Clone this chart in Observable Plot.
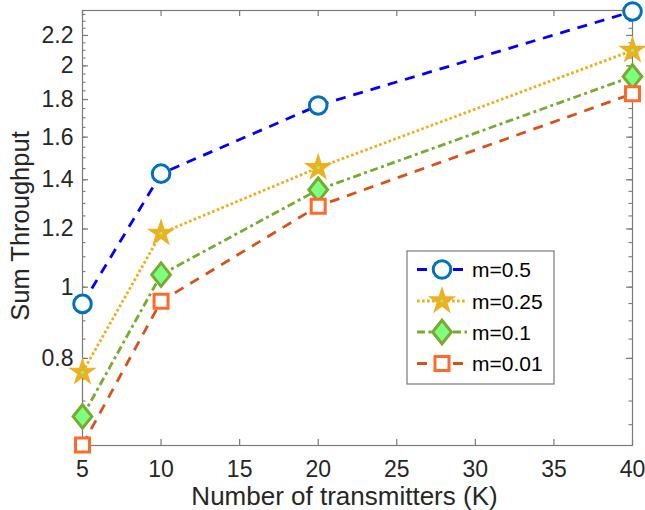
<!DOCTYPE html>
<html>
<head>
<meta charset="utf-8">
<script src="https://cdn.jsdelivr.net/npm/d3@7"></script>
<script src="https://cdn.jsdelivr.net/npm/@observablehq/plot@0.6"></script>
<style>
  html, body { margin: 0; padding: 0; background: #fff; }
  #chart { width: 645px; height: 510px; }
</style>
</head>
<body>
<div id="chart"></div>
<script>
// ---- data ----
const K = [5, 10, 20, 40];
const m05  = [0.949, 1.427, 1.767, 2.372];
const m025 = [0.766, 1.184, 1.454, 2.099];
const m01  = [0.667, 1.040, 1.357, 1.935];
const m001 = [0.610, 0.957, 1.289, 1.833];
const seriesNames = ["m=0.5", "m=0.25", "m=0.1", "m=0.01"];

const xTicks = [5, 10, 15, 20, 25, 30, 35, 40];
const yMajor = [0.8, 1, 1.2, 1.4, 1.6, 1.8, 2, 2.2];
const yMinor = d3.range(13, 48).map(i => i / 20);
const xLabel = "Number of transmitters (K)";
const yLabel = "Sum Throughput";

// ---- styles ----
const W = 645, H = 510, ML = 82, MR = 13, MT = 10, MB = 65;
const PW = W - ML - MR, PH = H - MT - MB;

// MATLAB-like diamond: a bit taller than wide
const matlabDiamond = {
  draw(context, size) {
    const r = Math.sqrt(size / Math.PI);
    const h = r * 1.25;
    context.moveTo(0, -h);
    context.lineTo(r, 0);
    context.lineTo(0, h);
    context.lineTo(-r, 0);
    context.closePath();
  }
};

const styles = [
  {stroke: "#0000ff", dash: "10,8", symbol: d3.symbolCircle, r: 8.8, mStroke: "#0072bd", mFill: "#ffffff", sw: 3},
  {stroke: "#edb120", dash: "2.7,2.3", symbol: d3.symbolStar, r: 7.8, mStroke: "#edb120", mFill: "#edb120", sw: 1.2, dot: "#7fff7f"},
  {stroke: "#77ac30", dash: "8,3.5,3,3.5", symbol: matlabDiamond, r: 9.4, mStroke: "#77ac30", mFill: "#7fff7f", sw: 3},
  {stroke: "#d95319", dash: "10,8", symbol: d3.symbolSquare, r: 7.9, mStroke: "#ff6929", mFill: "#ffffff", sw: 3}
];
const allSeries = [m05, m025, m01, m001];
const rows = allSeries.map((vals, s) => K.map((k, i) => ({k, v: vals[i], s})));

const axisColor = "#7a7a7a";
const textColor = "#262626";
const font = "'Liberation Sans', Arial, Helvetica, sans-serif";

const marks = [
  Plot.frame({stroke: axisColor, strokeWidth: 1.2}),
  // ticks (inward), bottom / top
  Plot.ruleX(xTicks, {x: d => d, insetTop: PH - 6, stroke: axisColor, strokeWidth: 1.2}),
  Plot.ruleX(xTicks, {x: d => d, insetBottom: PH - 6, stroke: axisColor, strokeWidth: 1.2}),
  // y ticks left / right
  Plot.ruleY(yMajor, {y: d => d, insetRight: PW - 6, stroke: axisColor, strokeWidth: 1.2}),
  Plot.ruleY(yMajor, {y: d => d, insetLeft: PW - 6, stroke: axisColor, strokeWidth: 1.2}),
  Plot.ruleY(yMinor, {y: d => d, insetRight: PW - 3.5, stroke: axisColor, strokeWidth: 1.1}),
  Plot.ruleY(yMinor, {y: d => d, insetLeft: PW - 3.5, stroke: axisColor, strokeWidth: 1.1}),
  Plot.axisX(xTicks, {tickSize: 0, tickPadding: 15, fontSize: 23, fill: textColor, label: null, tickFormat: d => String(d)}),
  Plot.axisY(yMajor, {tickSize: 0, tickPadding: 9, fontSize: 23, fill: textColor, label: null, tickFormat: d => String(d)}),
  Plot.text([xLabel], {frameAnchor: "bottom", lineAnchor: "middle", dx: -13, dy: 51, fontSize: 26, fill: textColor, textAnchor: "middle"}),
  Plot.text([yLabel], {frameAnchor: "left", lineAnchor: "middle", dx: -62, dy: -2, rotate: -90, fontSize: 25.5, fill: textColor, textAnchor: "middle"})
];

rows.forEach((data, s) => {
  const st = styles[s];
  marks.push(Plot.line(data, {x: "k", y: "v", stroke: st.stroke, strokeWidth: 2.8, strokeDasharray: st.dash, strokeLinecap: "butt"}));
});
rows.forEach((data, s) => {
  const st = styles[s];
  marks.push(Plot.dot(data, {x: "k", y: "v", symbol: st.symbol, r: st.r, stroke: st.mStroke, fill: st.mFill, strokeWidth: st.sw}));
  if (st.dot) marks.push(Plot.dot(data, {x: "k", y: "v", r: 1.6, fill: st.dot, stroke: "none"}));
});

const chart = Plot.plot({
  width: W, height: H,
  marginLeft: ML, marginRight: MR, marginTop: MT, marginBottom: MB,
  style: {fontFamily: font, background: "#fff", overflow: "visible"},
  x: {domain: [5, 40]},
  y: {type: "log", domain: [0.609, 2.379]},
  marks
});
document.getElementById("chart").appendChild(chart);

// ---- legend (inside the axes, MATLAB style) ----
const svg = d3.select(chart);
const lg = svg.append("g").attr("transform", "translate(407,251)");
lg.append("rect").attr("width", 147).attr("height", 133)
  .attr("fill", "#fff").attr("stroke", axisColor).attr("stroke-width", 1.2);
const rowY = [18.5, 50, 81, 112.5];
seriesNames.forEach((name, i) => {
  const st = styles[i];
  const g = lg.append("g").attr("transform", `translate(0,${rowY[i]})`);
  g.append("line").attr("x1", 10).attr("x2", 60).attr("y1", 0).attr("y2", 0)
    .attr("stroke", st.stroke).attr("stroke-width", 2.8).attr("stroke-dasharray", st.dash);
  g.append("path").attr("transform", "translate(35,0)")
    .attr("d", d3.symbol(st.symbol, Math.PI * st.r * st.r)())
    .attr("fill", st.mFill).attr("stroke", st.mStroke).attr("stroke-width", st.sw);
  if (st.dot) g.append("circle").attr("cx", 35).attr("r", 1.6).attr("fill", st.dot);
  g.append("text").attr("x", 65).attr("y", 0).attr("dy", "0.36em")
    .attr("text-anchor", "start")
    .attr("font-size", 21).attr("fill", "#000").attr("font-family", font).text(name);
});
</script>
</body>
</html>
